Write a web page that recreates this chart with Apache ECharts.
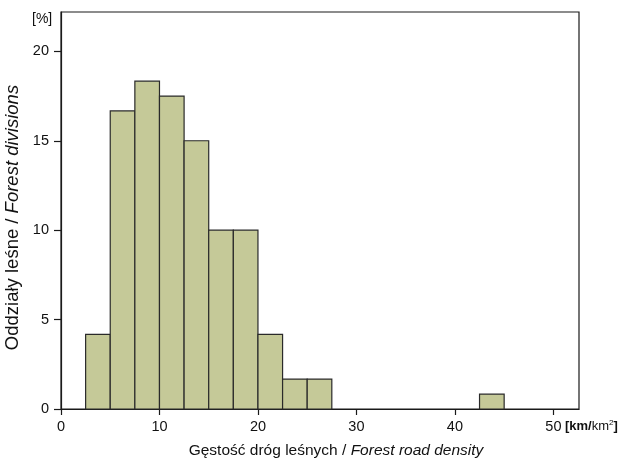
<!DOCTYPE html>
<html>
<head>
<meta charset="utf-8">
<script src="https://cdn.jsdelivr.net/npm/echarts@6/dist/echarts.min.js"></script>
<style>
  html, body { margin: 0; padding: 0; background: #fff; }
  #chart { width: 620px; height: 460px; }
</style>
</head>
<body>
<div id="chart"></div>
<script>
// Histogram bins of forest road density [km/km²] (lower and upper edge)
const binStart = [2.5, 5, 7.5, 10, 12.5, 15, 17.5, 20, 22.5, 25, 42.5];
const binEnd   = [5, 7.5, 10, 12.5, 15, 17.5, 20, 22.5, 25, 27.5, 45];
// Share of forest divisions in each bin [%]
const sharePct = [4.17, 16.67, 18.33, 17.5, 15.0, 10.0, 10.0, 4.17, 1.67, 1.67, 0.83];
// Axis ticks
const xTicks = [0, 10, 20, 30, 40, 50];
const yTicks = [0, 5, 10, 15, 20];

const data = binStart.map((s, i) => [s, binEnd[i], sharePct[i]]);

const font = 'Liberation Sans, Arial, sans-serif';
const chart = echarts.init(document.getElementById('chart'), null, { renderer: 'canvas' });

chart.setOption({
  animation: false,
  backgroundColor: '#fff',
  grid: {
    left: 61, top: 12, right: 41, bottom: 51,
    outerBoundsMode: 'none',
    show: true, borderColor: '#1a1a1a', borderWidth: 1.2
  },
  xAxis: {
    type: 'value',
    min: 0, max: 52.6, interval: 10,
    axisLine: { show: true, onZero: false, lineStyle: { color: '#1a1a1a', width: 1.2 } },
    axisTick: { show: true, length: 6, lineStyle: { color: '#1a1a1a', width: 1.2 },
                customValues: xTicks },
    axisLabel: { color: '#111', fontFamily: font, fontSize: 14.5, margin: 10,
                 customValues: xTicks },
    splitLine: { show: false },
    name: '{pl|Gęstość dróg leśnych / }{en|Forest road density}',
    nameLocation: 'middle', nameGap: 34,
    nameTextStyle: {
      padding: [0, 0, 0, 32],
      rich: {
        pl: { fontFamily: font, fontSize: 15.5, color: '#111' },
        en: { fontFamily: font, fontSize: 15.5, color: '#111', fontStyle: 'italic' }
      }
    }
  },
  yAxis: {
    type: 'value',
    min: 0, max: 22.2, interval: 5,
    axisLine: { show: true, lineStyle: { color: '#1a1a1a', width: 1.2 } },
    axisTick: { show: true, length: 7, lineStyle: { color: '#1a1a1a', width: 1.2 },
                customValues: yTicks },
    axisLabel: { color: '#111', fontFamily: font, fontSize: 14.5, margin: 12,
                 customValues: yTicks },
    splitLine: { show: false },
    name: '{pl|Oddziały leśne / }{en|Forest divisions}',
    nameLocation: 'middle', nameGap: 33, nameRotate: 90,
    nameTextStyle: {
      padding: [0, 14, 0, 0],
      rich: {
        pl: { fontFamily: font, fontSize: 18.5, color: '#111' },
        en: { fontFamily: font, fontSize: 18.5, color: '#111', fontStyle: 'italic' }
      }
    }
  },
  graphic: [
    { type: 'text', left: 32, top: 12,
      style: { text: '[%]', font: '14px ' + font, fill: '#111' } },
    { type: 'text', left: 565, top: 419,
      style: { text: '{b|[km/}{n|km}{s|2}{b|]}',
               rich: {
                 b: { fontFamily: font, fontSize: 13, fontWeight: 'bold', fill: '#111' },
                 n: { fontFamily: font, fontSize: 13, fill: '#111' },
                 s: { fontFamily: font, fontSize: 8, fill: '#111', verticalAlign: 'top', padding: [0, 0, 6, 0] }
               } } }
  ],
  series: [{
    type: 'custom',
    data: data,
    encode: { x: [0, 1], y: 2 },
    renderItem: function (params, api) {
      const p0 = api.coord([api.value(0), 0]);
      const p1 = api.coord([api.value(1), api.value(2)]);
      return {
        type: 'rect',
        shape: { x: p0[0], y: p1[1], width: p1[0] - p0[0], height: p0[1] - p1[1] },
        style: { fill: '#c5c998', stroke: '#2a2a2a', lineWidth: 1.2 }
      };
    }
  }]
});
</script>
</body>
</html>
